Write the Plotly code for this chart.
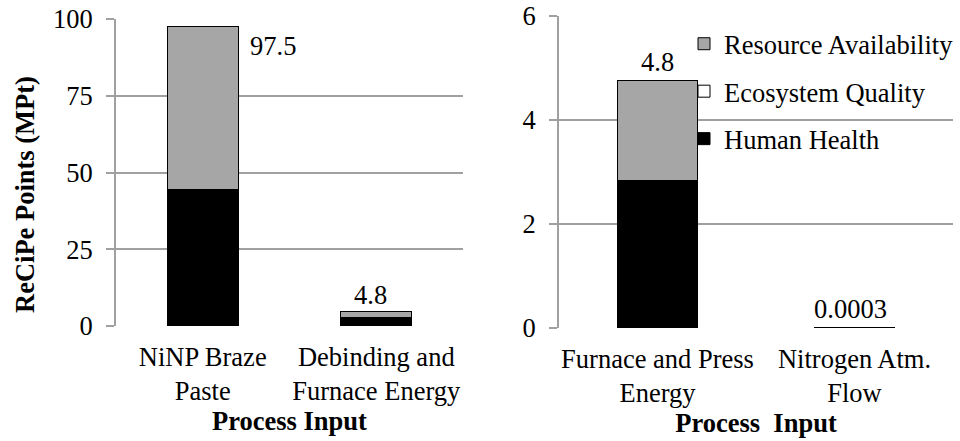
import plotly.graph_objects as go

# ReCiPe endpoint scores (MPt) per process input, split by damage category
left_inputs = ["NiNP Braze<br>Paste", "Debinding and<br>Furnace Energy"]
left_human_health = [44.3, 2.9]
left_ecosystem = [0.02, 0.001]
left_resources = [53.18, 1.899]

right_inputs = ["Furnace and Press<br>Energy", "Nitrogen Atm.<br>Flow"]
right_human_health = [2.83, 0.0002]
right_ecosystem = [0.003, 0.00001]
right_resources = [1.927, 0.00009]

left_label_fmt = ["{:.1f}", "{:.1f}"]
right_label_fmt = ["{:.1f}", "{:.4f}"]

left_ticks = [0, 25, 50, 75, 100]
right_ticks = [0, 2, 4, 6]

FONT = "Liberation Serif"
FS = 26.5
GRID = "#a0a0a0"
series = [
    ("Human Health", "#000000", 3),
    ("Ecosystem Quality", "#ffffff", 2),
    ("Resource Availability", "#a6a6a6", 1),
]

fig = go.Figure()

panels = [
    ("x", "y", left_inputs, [left_human_health, left_ecosystem, left_resources], True),
    ("x2", "y2", right_inputs, [right_human_health, right_ecosystem, right_resources], False),
]
for xa, ya, cats, vals, hide in panels:
    for (name, color, rank), v in zip(series, vals):
        fig.add_trace(go.Bar(
            x=cats, y=v, name=name, xaxis=xa, yaxis=ya,
            marker=dict(color=color, line=dict(color="#000000", width=1)),
            legendgroup=name, legendrank=rank, showlegend=not hide,
        ))

# Total labels above each stacked bar
def totals(vals):
    return [sum(t) for t in zip(*vals)]

lt = totals([left_human_health, left_ecosystem, left_resources])
rt = totals([right_human_health, right_ecosystem, right_resources])
tfont = dict(family=FONT, size=FS, color="#000")
ann = []
left_shift = [(70, -19), (-6, 16)]
for c, t, f, (dx, dy) in zip(left_inputs, lt, left_label_fmt, left_shift):
    ann.append(dict(x=c, y=t, xref="x", yref="y", text=f.format(t), showarrow=False,
                    xshift=dx, yshift=dy, font=tfont))
right_shift = [(0, 18), (-4, 19)]
for c, t, f, (dx, dy) in zip(right_inputs, rt, right_label_fmt, right_shift):
    ann.append(dict(x=c, y=t, xref="x2", yref="y2", text=f.format(t), showarrow=False,
                    xshift=dx, yshift=dy, font=tfont))

# Y-axis title of the left panel
ann.append(dict(x=25 / 960, y=1 - 195 / 441, xref="paper", yref="paper",
                text="<b>ReCiPe Points (MPt)</b>", textangle=-90, showarrow=False,
                xanchor="center", yanchor="middle", font=tfont))

xcommon = dict(showgrid=False, showline=False, ticks="", tickfont=tfont, automargin=False,
               range=[-0.5, 1.5], fixedrange=True, ticklabelstandoff=12)
ycommon = dict(showgrid=True, gridcolor=GRID, gridwidth=2, showline=True, linecolor=GRID, linewidth=2,
               ticks="outside", ticklen=8, tickcolor=GRID, tickwidth=2, zeroline=False, automargin=False,
               tickfont=tfont, ticklabelstandoff=8)

fig.update_layout(
    width=960, height=441,
    margin=dict(l=0, r=0, t=0, b=0),
    paper_bgcolor="white", plot_bgcolor="white",
    barmode="stack", bargap=0.59,
    font=tfont,
    xaxis=dict(domain=[116 / 960, 463 / 960], anchor="y",
               title=dict(text="<b>Process Input</b>", standoff=4, font=tfont),
               **xcommon),
    yaxis=dict(domain=[1 - 326 / 441, 1 - 19 / 441], anchor="x", range=[0, 100], tickvals=left_ticks,
               **ycommon),
    xaxis2=dict(domain=[559 / 960, 953 / 960], anchor="y2",
                title=dict(text="<b>Process\u00a0 Input</b>", standoff=4, font=tfont),
                **xcommon),
    yaxis2=dict(domain=[1 - 328 / 441, 1 - 15.7 / 441], anchor="x2", range=[0, 6], tickvals=right_ticks,
                **ycommon),
    legend=dict(x=684 / 960, y=1 - 20 / 441, xanchor="left", yanchor="top",
                traceorder="grouped", tracegroupgap=10,
                bgcolor="rgba(0,0,0,0)", font=tfont),
    annotations=ann,
    showlegend=True,
)

fig.write_html("out.html")
